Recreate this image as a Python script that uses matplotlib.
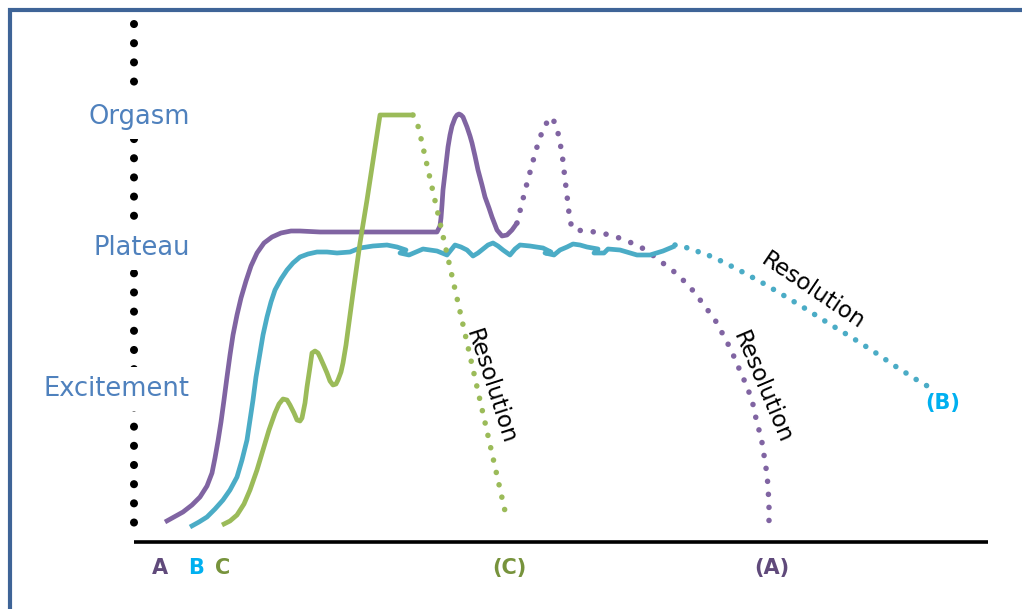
import matplotlib.pyplot as plt

# Уровни возбуждения (подписи слева) и их высота на шкале
stage_names = ["Orgasm", "Plateau", "Excitement"]
stage_levels = [117, 248, 389]

# Кривая A (фиолетовая), сплошная часть
a_x = [165, 174, 183, 192, 200, 207, 212, 215, 218, 221, 224, 227, 230, 233, 237, 241, 246, 251, 257, 264,
       272, 281, 291, 300, 320, 437,
       440, 441, 442, 443, 445, 448, 450, 452, 455, 457, 459, 461, 463, 467, 470, 472, 475, 478, 482, 485, 489,
       492, 497, 502, 507, 512, 517]
a_y = [522, 517, 512, 505, 497, 486, 473, 458, 441, 422, 400, 377, 355, 335, 315, 298, 281, 266, 253, 243,
       237, 233, 231, 231, 232, 232,
       226, 218, 205, 190, 173, 147, 135, 126, 118, 115, 114, 115, 117, 127, 136, 143, 156, 170, 185, 197, 208,
       217, 230, 236, 235, 230, 223]
# A: пунктир (второй оргазм и разрешение)
a_res_x = [517, 526, 536, 544, 552, 557, 562, 565, 568, 570, 574, 588, 601, 614, 627, 639, 650, 660, 671, 681, 690,
           698, 706, 714, 720, 726, 732, 737, 742, 747, 752, 757, 761, 763, 765, 767, 768, 769, 769]
a_res_y = [223, 187, 150, 126, 117, 128, 153, 179, 204, 222, 230, 231, 233, 236, 241, 246, 253, 261, 269, 278, 287,
           297, 308, 318, 329, 340, 352, 364, 375, 387, 400, 423, 437, 448, 462, 474, 487, 505, 525]

# Кривая B (бирюзовая): подъём и волнистое плато
b_x = [190, 199, 207, 215, 223, 230, 237, 242, 247, 250, 253, 256, 260, 263, 267, 271, 275, 281, 287, 293, 300,
       308, 317, 327, 337, 350, 360, 373, 387, 397, 406, 400, 409, 423, 437, 447, 451, 455, 461, 467, 473, 478,
       483, 488, 493, 498, 503, 510, 515, 520, 530, 543, 551, 545, 554, 560, 567, 573, 580, 587, 598, 594, 604,
       608, 620, 637, 650, 663, 675]
b_y = [527, 522, 517, 509, 500, 490, 477, 460, 440, 420, 400, 377, 353, 335, 317, 302, 290, 279, 270, 263, 257,
       254, 252, 252, 253, 252, 248, 246, 245, 247, 250, 253, 255, 249, 251, 255, 250, 245, 247, 250, 256, 253,
       249, 245, 243, 246, 250, 255, 249, 245, 246, 248, 252, 253, 255, 250, 247, 244, 245, 247, 249, 253, 253,
       249, 250, 255, 255, 251, 246]
b_res_x = [675, 688, 713, 737, 761, 783, 806, 828, 851, 873, 895, 917, 929]
b_res_y = [245, 248, 257, 269, 282, 295, 309, 323, 337, 351, 366, 380, 387]

# Кривая C (зелёная)
c_x = [222, 230, 237, 244, 250, 257, 263, 269, 275, 279, 283, 287, 290, 294, 297, 300, 302, 305, 307, 310, 312,
       315, 318, 320, 324, 327, 330, 333, 336, 338, 341, 343, 346, 348, 353, 360, 367, 380, 413]
c_y = [525, 521, 515, 504, 490, 470, 450, 430, 413, 404, 399, 400, 405, 413, 420, 421, 418, 403, 387, 367, 353,
       351, 353, 357, 366, 373, 381, 385, 384, 380, 372, 363, 345, 330, 293, 243, 200, 115, 115]
c_res_x = [413, 417, 420, 507]
c_res_y = [115, 122, 134, 520]

purple = "#8064A2"
teal = "#4BACC6"
green = "#9BBB59"
label_blue = "#4F81BD"
frame_col = "#3E6497"

fig = plt.figure(figsize=(10.22, 6.09), dpi=100)
ax = fig.add_axes([0, 0, 1, 1])
ax.set_xlim(0, 1022)
ax.set_ylim(609, 0)
ax.axis("off")

# рамка слайда
ax.plot([10, 10, 1022], [609, 10, 10], color=frame_col, lw=3, solid_joinstyle="miter", zorder=1)

# оси: пунктир из точек слева и линия снизу
ax.plot([134, 134], [24, 537], color="black", lw=5.8, linestyle=(0, (0.01, 2.37)),
        dash_capstyle="round", zorder=2)
ax.plot([134, 988], [542, 542], color="black", lw=2.6, solid_capstyle="butt", zorder=2)

for name, lvl in zip(stage_names, stage_levels):
    ax.text(190, lvl, name, color=label_blue, fontsize=18.5, ha="right", va="center",
            bbox=dict(boxstyle="square,pad=0.35", fc="white", ec="none"), zorder=3)

solid = dict(lw=3.4, solid_capstyle="butt", solid_joinstyle="round")
dots = dict(lw=4, dash_capstyle="round")
ax.plot(a_x, a_y, color=purple, zorder=4, **solid)
ax.plot(a_res_x, a_res_y, color=purple, linestyle=(0, (0.01, 2.34)), zorder=4, **dots)
ax.plot(b_x, b_y, color=teal, zorder=5, **solid)
ax.plot(b_res_x, b_res_y, color=teal, linestyle=(0, (0.01, 2.16)), zorder=5, **dots)
ax.plot(c_x, c_y, color=green, zorder=6, **solid)
ax.plot(c_res_x, c_res_y, color=green, linestyle=(0, (0.01, 2.27)), zorder=6, **dots)

# подписи Resolution вдоль пунктиров
res_style = dict(fontsize=16.5, ha="center", va="center", rotation_mode="anchor", zorder=7)
ax.text(490, 387, "Resolution", rotation=-72, **res_style)
ax.text(762, 387, "Resolution", rotation=-67, **res_style)
ax.text(813, 291, "Resolution", rotation=-34, **res_style)

# буквы кривых
ax.text(160, 568, "A", color="#604A7B", fontsize=15, fontweight="bold", ha="center", va="center")
ax.text(196, 568, "B", color="#00B0F0", fontsize=15, fontweight="bold", ha="center", va="center")
ax.text(223, 568, "C", color="#77933C", fontsize=15, fontweight="bold", ha="center", va="center")
ax.text(509, 568, "(C)", color="#77933C", fontsize=15, fontweight="bold", ha="center", va="center")
ax.text(772, 568, "(A)", color="#604A7B", fontsize=15, fontweight="bold", ha="center", va="center")
ax.text(943, 403, "(B)", color="#00B0F0", fontsize=15, fontweight="bold", ha="center", va="center")

fig.savefig("out.png", dpi=100, facecolor="white")
